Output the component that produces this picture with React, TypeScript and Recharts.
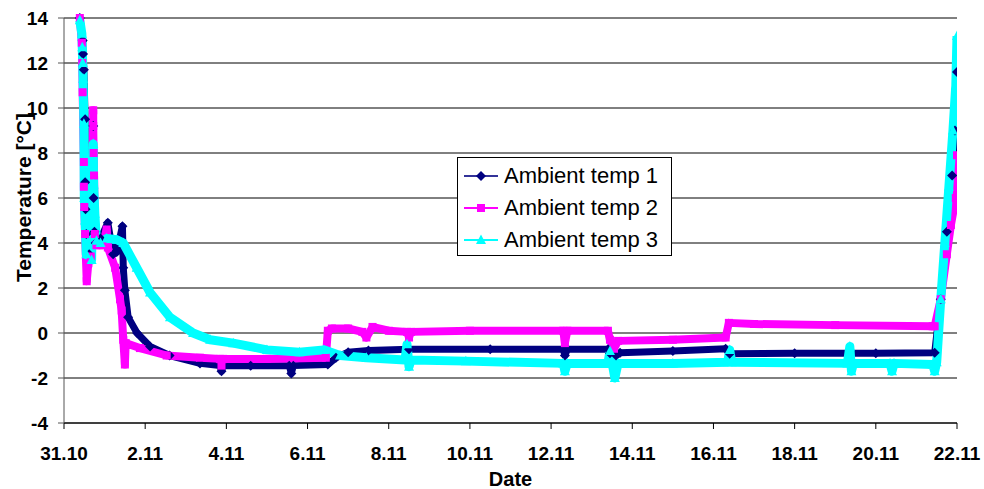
import { LineChart, Line, XAxis, YAxis, CartesianGrid, Legend } from "recharts";

// days after 31.10 00:00, temperature °C
const TEMP1: [number, number][] = [
  [0.39, 14.0], [0.46, 13.0], [0.47, 12.4], [0.49, 11.7], [0.52, 9.5], [0.52, 6.7], [0.53, 5.5],
  [0.55, 4.4], [0.62, 3.5], [0.72, 9.2], [0.73, 6.0], [0.75, 4.5], [0.78, 4.0], [0.9, 4.2],
  [1.08, 4.9], [1.21, 3.5], [1.3, 3.6], [1.44, 4.75], [1.46, 2.9], [1.5, 1.9], [1.58, 0.7],
  [1.8, 0.0], [2.12, -0.6], [2.6, -1.0], [3.35, -1.35], [3.84, -1.45], [3.88, -1.7], [3.92, -1.45],
  [4.6, -1.45], [5.55, -1.45], [5.6, -1.8], [5.65, -1.45], [6.5, -1.4], [6.7, -1.1], [7.0, -0.85],
  [7.5, -0.78], [8.5, -0.72], [10.5, -0.72], [12.3, -0.72], [12.34, -1.0], [12.4, -0.72],
  [13.4, -0.72], [13.45, -0.9], [13.6, -1.0], [13.7, -0.88], [15.0, -0.8], [16.3, -0.7],
  [16.4, -0.92], [18.0, -0.9], [20.0, -0.9], [21.45, -0.88], [21.6, 1.5], [21.75, 4.5],
  [21.88, 7.0], [21.95, 9.0], [22.0, 11.6],
];

const TEMP2: [number, number][] = [
  [0.39, 14.0], [0.44, 12.9], [0.45, 12.0], [0.46, 10.7], [0.49, 7.6], [0.49, 6.5], [0.5, 5.6],
  [0.52, 4.4], [0.56, 2.3], [0.6, 3.1], [0.66, 3.4], [0.72, 9.9], [0.72, 9.2], [0.73, 8.0],
  [0.74, 7.0], [0.76, 4.4], [0.8, 3.9], [0.95, 3.9], [1.05, 4.6], [1.08, 3.8], [1.26, 2.9],
  [1.38, 1.5], [1.42, 1.0], [1.46, -0.3], [1.5, -1.4], [1.52, -0.45], [1.87, -0.67], [2.53, -1.0],
  [3.35, -1.1], [3.84, -1.15], [3.88, -1.45], [3.92, -1.15], [5.0, -1.15], [6.45, -1.1],
  [6.5, 0.1], [6.6, 0.2], [7.0, 0.2], [7.35, 0.05], [7.45, -0.2], [7.6, 0.27], [8.0, 0.1],
  [8.45, 0.05], [8.5, -0.2], [8.55, 0.05], [10.0, 0.1], [12.3, 0.1], [12.34, -0.45], [12.4, 0.1],
  [13.4, 0.1], [13.45, -0.3], [13.55, -0.7], [13.65, -0.35], [15.0, -0.3], [16.3, -0.2],
  [16.38, 0.45], [17.0, 0.4], [19.0, 0.35], [21.4, 0.3], [21.45, 0.3], [21.6, 1.5], [21.75, 3.5],
  [21.85, 4.8], [21.97, 6.0], [22.0, 7.9],
];

const TEMP3: [number, number][] = [
  [0.39, 13.9], [0.44, 13.3], [0.45, 12.7], [0.46, 12.0], [0.47, 11.3], [0.49, 9.3], [0.5, 6.0],
  [0.52, 5.0], [0.55, 3.5], [0.68, 3.25], [0.72, 8.4], [0.73, 6.6], [0.76, 5.3], [0.8, 4.1],
  [0.9, 4.0], [1.05, 4.2], [1.3, 4.15], [1.46, 4.0], [1.79, 2.9], [2.12, 1.8], [2.61, 0.7],
  [3.18, 0.0], [3.6, -0.3], [4.17, -0.45], [5.0, -0.75], [5.8, -0.85], [6.4, -0.75], [6.8, -1.0],
  [7.45, -1.1], [8.4, -1.2], [8.45, -0.5], [8.5, -1.5], [8.55, -1.2], [9.9, -1.25], [12.3, -1.35],
  [12.34, -1.7], [12.4, -1.35], [13.4, -1.35], [13.45, -0.8], [13.57, -2.0], [13.65, -1.35],
  [15.0, -1.35], [16.35, -1.3], [16.4, -0.75], [16.45, -1.3], [19.3, -1.35], [19.36, -0.6],
  [19.4, -1.7], [19.45, -1.35], [20.35, -1.35], [20.4, -1.7], [20.45, -1.35], [21.4, -1.4],
  [21.45, -1.7], [21.5, -1.3], [21.6, 1.5], [21.7, 4.0], [21.8, 6.5], [21.9, 9.0], [21.97, 11.0],
  [22.0, 13.2],
];

const DAY_TICKS = [0, 2, 4, 6, 8, 10, 12, 14, 16, 18, 20, 22];
const DAY_LABELS = ["31.10", "2.11", "4.11", "6.11", "8.11", "10.11", "12.11", "14.11", "16.11", "18.11", "20.11", "22.11"];
const TEMP_TICKS = [-4, -2, 0, 2, 4, 6, 8, 10, 12, 14];

const SERIES = [
  { key: "t1", name: "Ambient temp 1", color: "#000080", legendColor: "#333399", shape: "diamond", width: 7, data: TEMP1 },
  { key: "t2", name: "Ambient temp 2", color: "#FF00FF", legendColor: "#FF00FF", shape: "square", width: 8, data: TEMP2 },
  { key: "t3", name: "Ambient temp 3", color: "#00FFFF", legendColor: "#00FFFF", shape: "triangle", width: 9, data: TEMP3 },
];

const FONT = "'Liberation Sans', Arial, sans-serif";

function marker(shape: string, cx: number, cy: number, color: string, key?: any) {
  if (shape === "diamond") {
    return <path key={key} d={`M${cx},${cy - 5}L${cx + 5},${cy}L${cx},${cy + 5}L${cx - 5},${cy}Z`} fill={color} />;
  }
  if (shape === "square") {
    return <rect key={key} x={cx - 4} y={cy - 4} width={8} height={8} fill={color} />;
  }
  return <path key={key} d={`M${cx},${cy - 5.5}L${cx + 5},${cy + 4}L${cx - 5},${cy + 4}Z`} fill={color} />;
}

function renderLegend() {
  return (
    <div
      style={{
        boxSizing: "border-box",
        width: 215,
        height: 99,
        border: "1px solid #000",
        background: "#fff",
        paddingTop: 2,
        fontFamily: FONT,
        fontSize: 22,
        color: "#000",
        whiteSpace: "nowrap",
      }}
    >
      {SERIES.map((s) => (
        <div key={s.key} style={{ display: "flex", alignItems: "center", height: 32, paddingLeft: 6 }}>
          <svg width={34} height={16} style={{ marginRight: 6 }}>
            <line x1={0} y1={8} x2={34} y2={8} stroke={s.legendColor} strokeWidth={2} />
            {marker(s.shape, 17, 8, s.color)}
          </svg>
          <span>{s.name}</span>
        </div>
      ))}
    </div>
  );
}

export default function App() {
  return (
    <div style={{ position: "absolute", left: 0, top: 0, background: "#fff" }}>
      <LineChart width={984} height={489} margin={{ top: 18, right: 27, left: 0, bottom: 0 }}>
        <CartesianGrid vertical={false} stroke="#000" strokeWidth={1} />
        <XAxis
          type="number"
          dataKey="d"
          domain={[0, 22]}
          ticks={DAY_TICKS}
          allowDataOverflow
          height={66}
          tickSize={6}
          tickMargin={18}
          tickFormatter={(v) => DAY_LABELS[DAY_TICKS.indexOf(v)]}
          stroke="#000"
          tick={{ fontSize: 19, fontWeight: "bold", fill: "#000", fontFamily: FONT }}
          label={{ value: "Date", position: "insideBottom", offset: 3, style: { fontSize: 20, fontWeight: "bold", fill: "#000", fontFamily: FONT } }}
        />
        <YAxis
          type="number"
          domain={[-4, 14]}
          ticks={TEMP_TICKS}
          width={64}
          tickSize={6}
          tickMargin={10}
          stroke="#555"
          tick={{ fontSize: 19, fontWeight: "bold", fill: "#000", fontFamily: FONT }}
          label={(props: any) => {
            const vb = props.viewBox;
            const x = vb.x + 23;
            const y = vb.y + vb.height / 2 - 23;
            return (
              <text
                x={x}
                y={y}
                transform={`rotate(-90, ${x}, ${y})`}
                textAnchor="middle"
                dominantBaseline="central"
                fontSize={21}
                fontWeight="bold"
                fontFamily={FONT}
                fill="#000"
              >
                Temperature [°C]
              </text>
            );
          }}
        />
        <Legend layout="vertical" align="center" verticalAlign="middle" content={renderLegend} wrapperStyle={{ left: 457, top: 157, width: 215, height: 99 }} />
        {SERIES.map((s) => (
          <Line
            key={s.key}
            name={s.name}
            data={s.data.map(([d, v]) => ({ d, v }))}
            dataKey="v"
            type="linear"
            stroke={s.color}
            strokeWidth={s.width}
            strokeLinejoin="round"
            dot={(p: any) => marker(s.shape, p.cx, p.cy, s.color, p.index)}
            activeDot={false}
            isAnimationActive={false}
          />
        ))}
      </LineChart>
    </div>
  );
}
